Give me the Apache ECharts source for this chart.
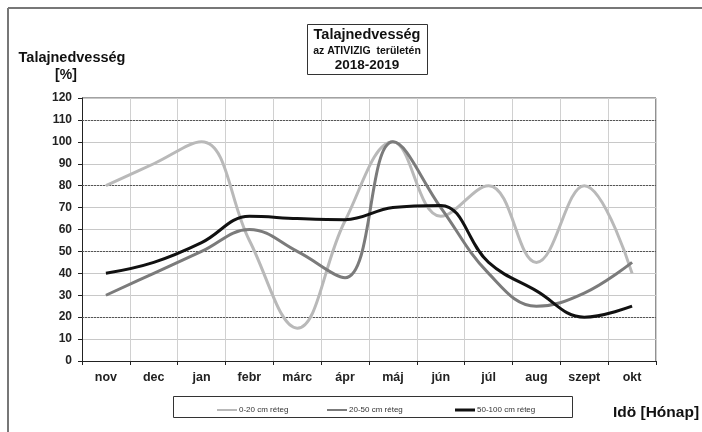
<!DOCTYPE html>
<html>
<head>
<meta charset="utf-8">
<script src="https://cdn.jsdelivr.net/npm/echarts@6/dist/echarts.min.js"></script>
<style>
  html, body { margin: 0; padding: 0; background: #fff; }
  #container { width: 702px; height: 432px; }
</style>
</head>
<body>
<div id="container"></div>
<script>
var months = ["nov", "dec", "jan", "febr", "márc", "ápr", "máj", "jún", "júl", "aug", "szept", "okt"];
var layer0_20 = [80, 90, 100, 55, 15, 64, 100, 66, 80, 45, 80, 40];
var layer20_50 = [30, 40, 50, 60, 50, 38, 100, 70, 40, 25, 31, 45];
var layer50_100 = [40, 45, 54, 66, 65, 64.5, 70, 71, 45, 32, 20, 25];
var darkGrid = [110, 80, 50, 20]; // sötétebb pontozott rácsvonalak

var font = "Liberation Sans, Arial, sans-serif";
var dom = document.getElementById("container");
var myChart = echarts.init(dom);

var lineSeries = function (name, data, color, z) {
  return {
    name: name,
    type: "line",
    data: data,
    smooth: 0.4,
    symbol: "none",
    z: z,
    lineStyle: { color: color, width: 3 },
    itemStyle: { color: color }
  };
};

var legendAt = function (name, left, h) {
  return {
    data: [{ name: name, icon: "rect" }],
    left: left,
    top: 401,
    itemWidth: 20,
    itemHeight: h,
    itemGap: 2,
    textStyle: { fontFamily: font, fontSize: 8, color: "#333", padding: [0, 0, 0, -3] }
  };
};

var series = [
  lineSeries("0-20 cm réteg", layer0_20, "#b9b9b9", 3),
  lineSeries("20-50 cm réteg", layer20_50, "#7b7b7b", 4),
  lineSeries("50-100 cm réteg", layer50_100, "#111111", 5)
];
series[0].markLine = {
  silent: true,
  symbol: "none",
  label: { show: false },
  lineStyle: { color: "#555", type: [2, 1], width: 1 },
  z: 1,
  data: darkGrid.map(function (v) { return { yAxis: v }; })
};

option = {
  backgroundColor: "#fff",
  animation: false,
  grid: { left: 82, right: 46, top: 98, bottom: 71 },
  legend: [
    legendAt("0-20 cm réteg", 212, 2),
    legendAt("20-50 cm réteg", 322, 2),
    legendAt("50-100 cm réteg", 450, 3)
  ],
  xAxis: {
    type: "category",
    data: months,
    boundaryGap: true,
    axisLine: { lineStyle: { color: "#222", width: 1 } },
    axisTick: { show: true, length: 4, lineStyle: { color: "#222" } },
    axisLabel: { fontFamily: font, fontWeight: "bold", fontSize: 12.5, color: "#222", margin: 10 },
    splitLine: { show: true, lineStyle: { color: "#d0d0d0", width: 1 } }
  },
  yAxis: {
    type: "value",
    min: 0,
    max: 120,
    interval: 10,
    axisLine: { show: true, lineStyle: { color: "#222", width: 1 } },
    axisTick: { show: true, length: 4, lineStyle: { color: "#222" } },
    axisLabel: { fontFamily: font, fontWeight: "bold", fontSize: 12, color: "#222", margin: 10 },
    splitLine: { show: true, lineStyle: { color: "#c8c8c8", width: 1 } }
  },
  graphic: [
    // külső keret
    { type: "line", shape: { x1: 8, y1: 8, x2: 702, y2: 8 }, style: { stroke: "#777", lineWidth: 2 } },
    { type: "line", shape: { x1: 8, y1: 8, x2: 8, y2: 432 }, style: { stroke: "#777", lineWidth: 2 } },
    // rajzterület kerete
    { type: "line", shape: { x1: 656, y1: 98, x2: 656, y2: 361 }, style: { stroke: "#222", lineWidth: 1 } },
    { type: "line", shape: { x1: 82, y1: 98, x2: 656, y2: 98 }, style: { stroke: "#444", lineWidth: 1 } },
    // cím doboz
    { type: "rect", shape: { x: 307.5, y: 24.5, width: 120, height: 50 }, style: { fill: "#fff", stroke: "#333", lineWidth: 1 } },
    { type: "text", x: 367, y: 35, style: { text: "Talajnedvesség", font: "bold 14.5px " + font, fill: "#111", align: "center", verticalAlign: "middle" } },
    { type: "text", x: 367, y: 51, style: { text: "az ATIVIZIG  területén", font: "bold 10.5px " + font, fill: "#111", align: "center", verticalAlign: "middle" } },
    { type: "text", x: 367, y: 65, style: { text: "2018-2019", font: "bold 13.5px " + font, fill: "#111", align: "center", verticalAlign: "middle" } },
    // tengelyfeliratok
    { type: "text", x: 72, y: 58, style: { text: "Talajnedvesség", font: "bold 14.5px " + font, fill: "#111", align: "center", verticalAlign: "middle" } },
    { type: "text", x: 66, y: 75, style: { text: "[%]", font: "bold 14px " + font, fill: "#111", align: "center", verticalAlign: "middle" } },
    { type: "text", x: 656, y: 413, style: { text: "Idö [Hónap]", font: "bold 15.5px " + font, fill: "#111", align: "center", verticalAlign: "middle" } },
    // jelmagyarázat keret
    { type: "rect", z: -1, shape: { x: 173.5, y: 396.5, width: 399, height: 21 }, style: { fill: "#fff", stroke: "#333", lineWidth: 1 } }
  ],
  series: series
};

if (option && typeof option === "object") {
  myChart.setOption(option, true);
}
</script>
</body>
</html>
